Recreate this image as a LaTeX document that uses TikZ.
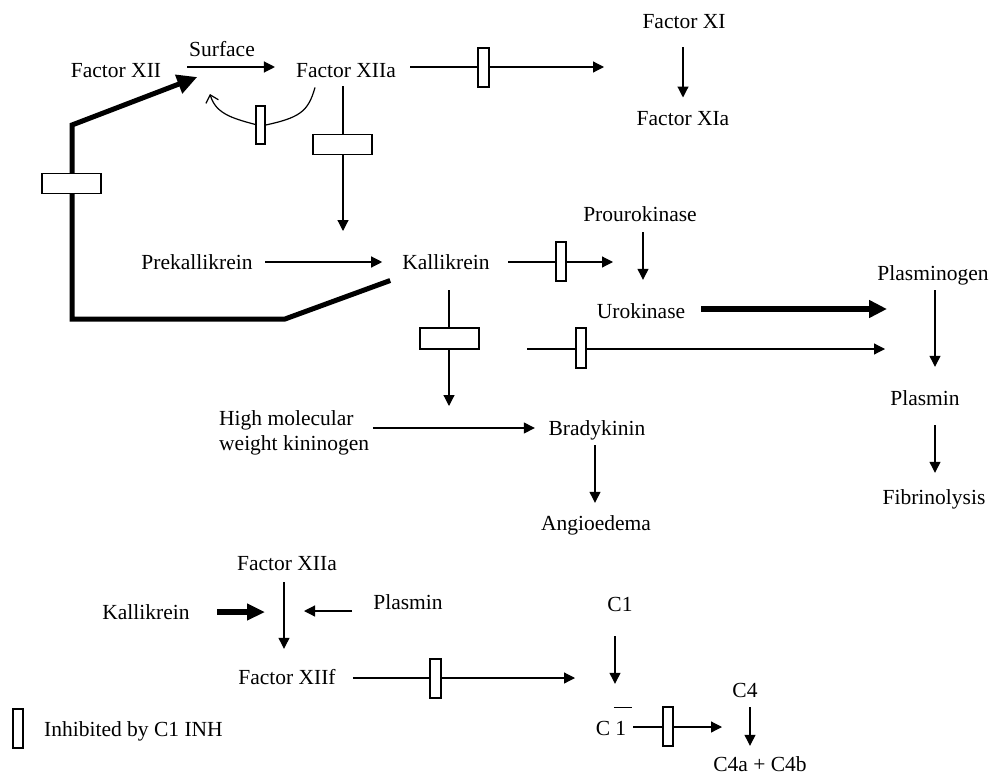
\documentclass[tikz,border=0pt]{standalone}
\usepackage{fontspec}
\setmainfont{Liberation Serif}
\usetikzlibrary{arrows.meta}
\begin{document}
\begin{tikzpicture}[x=1pt,y=-1pt,
  lbl/.style={inner sep=0pt, text height=14.6pt, text depth=0pt, font=\fontsize{21.5}{25}\selectfont},
  arr/.style={line width=1.2pt, -{Triangle[length=11pt,width=11pt]}},
  ln/.style={line width=1.2pt},
  thickarr/.style={line width=6pt, -{Triangle[length=18pt,width=17pt]}},
  inhv/.style={draw, fill=white, line width=1.2pt, minimum width=10pt, minimum height=39pt, inner sep=0pt},
  inhh/.style={draw, fill=white, line width=1.2pt, minimum width=59pt, minimum height=20pt, inner sep=0pt},
]
\useasboundingbox (0,0) rectangle (993,776);

% ---- nodes ----
\node[lbl] (f12) at (116,70) {Factor XII};
\node[lbl] (surf) at (222,49) {Surface};
\node[lbl] (f12a) at (346,70) {Factor XIIa};
\node[lbl] (f11) at (684,21) {Factor XI};
\node[lbl] (f11a) at (683,118) {Factor XIa};
\node[lbl] (prek) at (197,262) {Prekallikrein};
\node[lbl] (kal) at (446,262) {Kallikrein};
\node[lbl] (prouro) at (640,214) {Prourokinase};
\node[lbl] (uro) at (641,311) {Urokinase};
\node[lbl] (plg) at (933,273) {Plasminogen};
\node[lbl] (plm) at (925,398) {Plasmin};
\node[lbl] (fib) at (934,497) {Fibrinolysis};
\node[inner sep=0pt, font=\fontsize{21.5}{25}\selectfont, align=left, anchor=north west] (hmwk) at (219,410) {High molecular\\weight kininogen};
\node[lbl] (brady) at (597,428) {Bradykinin};
\node[lbl] (angio) at (596,523) {Angioedema};
\node[lbl] (f12a2) at (287,563) {Factor XIIa};
\node[lbl] (kal2) at (146,612) {Kallikrein};
\node[lbl] (plm2) at (408,602) {Plasmin};
\node[lbl] (f12f) at (287,677) {Factor XIIf};
\node[lbl] (c1) at (620,604) {C1};
\node[lbl] (c1bar) at (611,728) {C {\rlap{\kern-0.08em\rule[1.27em]{0.84em}{0.06em}}1}};
\node[lbl] (c4) at (745,690) {C4};
\node[lbl] (c4ab) at (760,764) {C4a + C4b};
\node[lbl, anchor=west] (legtxt) at (44,729) {Inhibited by C1 INH};

% ---- free ends ----
\coordinate (xi) at (604,67);
\coordinate (k1) at (343,231);
\coordinate (cv) at (210,94);
\coordinate (pu) at (613,262);
\coordinate (pg) at (887,309);
\coordinate (kb) at (449,406);
\coordinate (ks) at (527,349);
\coordinate (ke) at (885,349);
\coordinate (kk) at (265,612);
\coordinate (pp) at (304,611);
\coordinate (cc) at (575,678);
\coordinate (c4t) at (722,727);

% ---- connectors ----
\draw[arr, shorten <=26pt, shorten >=21pt] ([yshift=3pt]f12.east) -- ([yshift=3pt]f12a.west);
\draw[arr] ([xshift=14pt,yshift=3pt]f12a.east) -- (xi);
\draw[arr, shorten <=19pt, shorten >=13pt] ([xshift=-1pt]f11.south) -- (f11a.north);
\draw[arr] ([xshift=-3pt,yshift=-8.7pt]f12a.south) -- (k1);
\draw[ln, -{Straight Barb[length=7pt,width=13pt]}] ([xshift=-31pt,yshift=-10pt]f12a.south)
   .. controls (308,112) and (300,118) .. (261,126)
   .. controls (235,119) and (216,115) .. (cv);
\draw[line width=5pt, -{Triangle[length=20pt,width=19pt]}]
   ([xshift=-12pt,yshift=-11pt]kal.south west) -- (285,319) -- (72,319) -- (72,125)
   -- ([xshift=36pt,yshift=-7pt]f12.east);
\draw[arr, shorten <=12.5pt, shorten >=20pt] (prek.east) -- (kal.west);
\draw[arr, shorten <=18.5pt] (kal.east) -- (pu);
\draw[arr, shorten <=10.7pt, shorten >=23.7pt] ([xshift=3pt]prouro.south) -- ([xshift=2pt]uro.north);
\draw[thickarr, shorten <=16pt] ([yshift=2pt]uro.east) -- (pg);
\draw[arr, shorten <=20.7pt] ([xshift=3pt]kal.south) -- (kb);
\draw[arr] (ks) -- (ke);
\draw[arr, shorten <=9.7pt, shorten >=23.7pt] ([xshift=2pt]plg.south) -- ([xshift=10pt]plm.north);
\draw[arr, shorten <=19.7pt, shorten >=16.7pt] ([xshift=10pt]plm.south) -- ([xshift=1pt]fib.north);
\draw[arr, shorten <=3.5pt, shorten >=13.6pt] (hmwk.east |- brady.west) -- (brady.west);
\draw[arr, shorten <=9.7pt, shorten >=12.7pt] ([xshift=-2pt]brady.south) -- ([xshift=-1pt]angio.north);

\draw[arr, shorten <=11.7pt, shorten >=20.7pt] ([xshift=-3pt]f12a2.south) -- ([xshift=-3pt]f12f.north);
\draw[line width=6.5pt, -{Triangle[length=18pt,width=16pt]}, shorten <=27.4pt] (kal2.east) -- (kk);
\draw[arr, shorten <=21pt] ([yshift=-9pt]plm2.west) -- (pp);
\draw[arr, shorten <=17pt] ([yshift=-1pt]f12f.east) -- (cc);
\draw[arr, shorten <=24.7pt, shorten >=36.7pt] ([xshift=-5pt]c1.south) -- ([xshift=4pt]c1bar.north);
\draw[arr, shorten <=6.7pt] ([yshift=1pt]c1bar.east) -- (c4t);
\draw[arr, shorten <=9.7pt, shorten >=10.7pt] ([xshift=5pt]c4.south) -- ([xshift=-10pt]c4ab.north);

% ---- inhibition bars ----
\node[inhv, minimum width=11pt] (b1) at (483.5,67.5) {};
\node[inhv, minimum width=9pt, minimum height=38pt] (b2) at (260.5,125) {};
\node[inhh] (b3) at (342.5,144.5) {};
\node[inhh] (b4) at (71.5,183.5) {};
\node[inhv] (b5) at (561,261.5) {};
\node[inhh, minimum height=21pt] (b6) at (449.5,338.5) {};
\node[inhv, minimum height=40pt] (b7) at (581,348) {};
\node[inhv, minimum width=11pt] (b8) at (435.5,678.5) {};
\node[inhv] (b9) at (668,726.5) {};
\node[inhv] (legbar) at (18,728.5) {};
\end{tikzpicture}
\end{document}
